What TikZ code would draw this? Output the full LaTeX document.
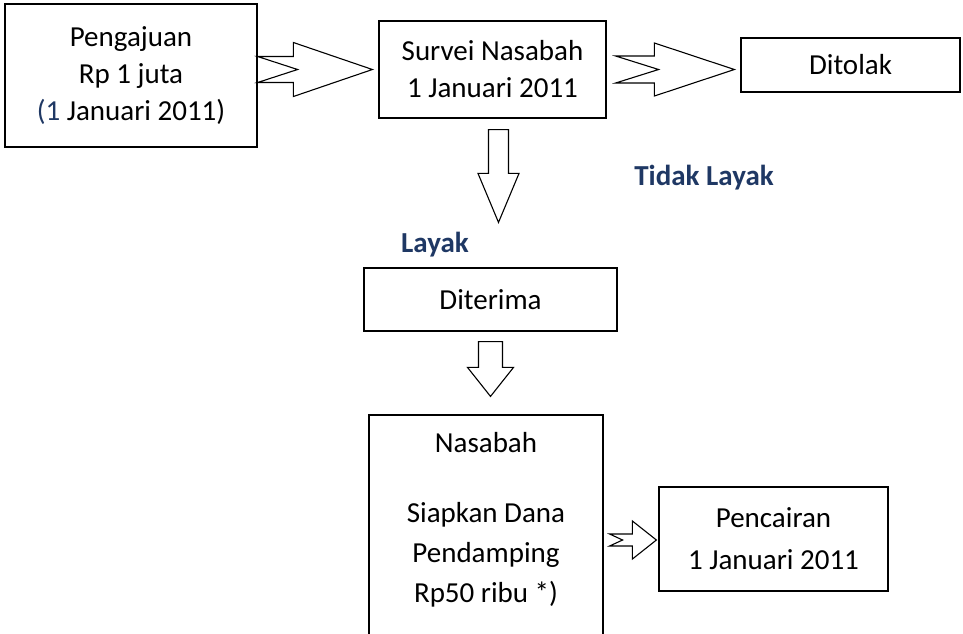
\documentclass[tikz,border=0pt]{standalone}
\usepackage{fontspec}
\setmainfont{Carlito}
\usepackage{tikz}
\usetikzlibrary{calc}
\definecolor{labelblue}{HTML}{1F3864}
\tikzstyle{box} = [draw, line width=1.2pt, inner sep=0pt, align=center,
    font=\fontsize{29}{37}\selectfont]
\tikzstyle{blockarrow} = [draw, line width=1.1pt, line join=miter, fill=white]
\tikzstyle{decision} = [inner sep=0pt, text=labelblue,
    font=\fontsize{29}{37}\selectfont\bfseries]

% notched arrow to the right: from, to, head length, notch, shaft half, head half
\newcommand{\blockright}[6]{%
  \draw[blockarrow] let \p1=(#1), \p2=(#2) in
    (\x1,\y1+#5) -- (\x2-#3,\y1+#5) -- (\x2-#3,\y1+#6) -- (\x2,\y1)
    -- (\x2-#3,\y1-#6) -- (\x2-#3,\y1-#5) -- (\x1,\y1-#5) -- (\x1+#4,\y1) -- cycle;}
% arrow pointing down: from, to, head length, shaft half, head half
\newcommand{\blockdown}[5]{%
  \draw[blockarrow] let \p1=(#1), \p2=(#2) in
    (\x1-#4,\y1) -- (\x1+#4,\y1) -- (\x1+#4,\y2+#3) -- (\x1+#5,\y2+#3)
    -- (\x1,\y2) -- (\x1-#5,\y2+#3) -- (\x1-#4,\y2+#3) -- cycle;}

\begin{document}
\begin{tikzpicture}[x=1pt,y=1pt]
    \useasboundingbox (0,0) rectangle (963,-633);
    \clip (0,0) rectangle (963,-633);
    %boxes
    \node[box, minimum width=252, minimum height=143] (aju) at (131,-75.5)
        {Pengajuan\\Rp 1 juta\\{\color{labelblue}(1} Januari 2011)};
    \node[box, minimum width=227, minimum height=97] (survei) at (492.5,-69.5)
        {Survei Nasabah\\1 Januari 2011};
    \node[box, minimum width=219, minimum height=54] (tolak) at (850.5,-65) {Ditolak};
    \node[box, minimum width=253, minimum height=63] (terima) at (490.5,-299.5) {Diterima};
    \node[box, minimum width=234, minimum height=240] (nsb) at (486,-535) {};   %runs off the page
    \node[box, draw=none, anchor=north, font=\fontsize{29}{40}\selectfont] (nsbtext)
        at ($(nsb.north)+(0,-17)$) {Nasabah\\[30pt]Siapkan Dana\\Pendamping\\Rp50 ribu *)};
    \node[box, minimum width=229, minimum height=104] (cair) at (773.5,-539)
        {Pencairan\\[5pt] 1 Januari 2011};
    %decisions
    \node[decision] (tidak) at (704,-178) {Tidak Layak};
    \node[decision] (layak) at (435,-245) {Layak};
    %block arrows
    \blockright{aju.east |- survei.west}{$(survei.west)+(-6,0)$}{79}{40}{13}{27}
    \blockright{$(survei.east)+(9,0)$}{$(tolak.west |- survei.east)+(-6,0)$}{80}{43}{13.5}{26.5}
    \blockdown{$(survei.south)+(6,-11)$}{$(terima.north)+(0,45)$}{49}{10}{20.5}
    \blockdown{$(terima.south)+(0,-10)$}{$(nsb.north)+(0,18)$}{29}{12}{23}
    \blockright{$(nsb.east |- cair.west)+(6,-1)$}{$(cair.west)+(-2,-1)$}{24}{13}{6}{19}
\end{tikzpicture}
\end{document}
